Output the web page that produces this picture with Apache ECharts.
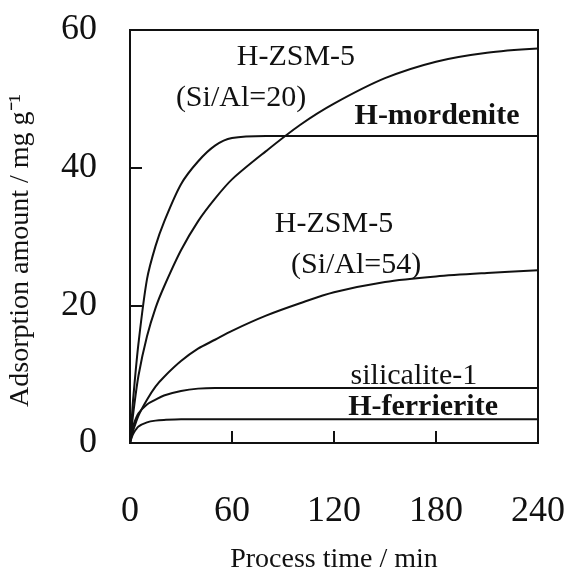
<!DOCTYPE html>
<html>
<head>
<meta charset="utf-8">
<script src="https://cdn.jsdelivr.net/npm/echarts@6/dist/echarts.min.js"></script>
<style>
html,body{margin:0;padding:0;background:#fff;}
#chart{width:572px;height:574px;}
</style>
</head>
<body>
<div id="chart"></div>
<script>
// Process time (min)
const times = [0, 1, 2, 5, 10, 15, 20, 30, 40, 50, 60, 80, 100, 120, 150, 180, 210, 240];
// Adsorption amount (mg g-1)
const zsm5_20   = [0, 2.3, 4.5, 9.8, 15.5, 19.6, 22.7, 28.0, 32.2, 35.5, 38.3, 42.4, 46.2, 49.3, 53.0, 55.4, 56.7, 57.3];
const mordenite = [0, 3.5, 6.8, 14.5, 23.8, 28.6, 32.1, 37.6, 40.9, 43.2, 44.3, 44.6, 44.6, 44.6, 44.6, 44.6, 44.6, 44.6];
const zsm5_54   = [0, 1.0, 1.9, 4.0, 6.3, 8.2, 9.6, 11.9, 13.7, 15.0, 16.3, 18.5, 20.3, 21.9, 23.4, 24.2, 24.7, 25.1];
const silicalite= [0, 1.6, 2.6, 4.3, 5.6, 6.3, 6.9, 7.55, 7.9, 8.0, 8.0, 8.0, 8.0, 8.0, 8.0, 8.0, 8.0, 8.0];
const ferrierite= [0, 0.8, 1.4, 2.4, 3.0, 3.25, 3.35, 3.45, 3.45, 3.45, 3.45, 3.45, 3.45, 3.45, 3.45, 3.45, 3.45, 3.45];

const xTicks = [0, 60, 120, 180, 240];
const yTicks = [0, 20, 40, 60];

// Annotation texts: [text, time, amount, bold]
const annotations = [
  ['H-ZSM-5', 97.6, 56.0, false],
  ['(Si/Al=20)', 65.3, 50.1, false],
  ['H-mordenite', 180.6, 47.4, true],
  ['H-ZSM-5', 120, 31.8, false],
  ['(Si/Al=54)', 133, 25.9, false],
  ['silicalite-1', 167, 9.7, false],
  ['H-ferrierite', 172.4, 5.2, true]
];

const FONT = '"Liberation Serif", "Times New Roman", serif';
const pair = arr => times.map((t, i) => [t, arr[i]]);

const chart = echarts.init(document.getElementById('chart'), null, {renderer: 'canvas'});
const lineStyle = {color: '#111', width: 2};
function mk(name, arr) {
  return {name, type: 'line', data: pair(arr), smooth: 0.3, showSymbol: false,
          lineStyle, itemStyle: {color: '#111'}, animation: false};
}
chart.setOption({
  backgroundColor: '#fff',
  animation: false,
  grid: {left: 130, right: 34, top: 30, bottom: 131, show: true, borderColor: '#111', borderWidth: 2,
         containLabel: false, outerBoundsMode: 'none'},
  xAxis: {
    type: 'value', min: 0, max: 240, interval: 60,
    name: 'Process time / min', nameLocation: 'middle', nameGap: 103,
    nameTextStyle: {fontFamily: FONT, fontSize: 28, color: '#111'},
    axisLine: {show: true, lineStyle: {color: '#111', width: 2}},
    axisTick: {show: true, inside: true, length: 12, lineStyle: {color: '#111', width: 2}},
    axisLabel: {fontFamily: FONT, fontSize: 36, color: '#111', margin: 51,
                formatter: v => xTicks.includes(v) ? String(v) : ''},
    splitLine: {show: false}
  },
  yAxis: {
    type: 'value', min: 0, max: 60, interval: 20,
    name: 'Adsorption amount / mg g\u207B\u00B9', nameLocation: 'middle', nameGap: 95,
    nameTextStyle: {fontFamily: FONT, fontSize: 28, color: '#111', padding: [0, 28, 0, 0]},
    axisLine: {show: true, lineStyle: {color: '#111', width: 2}},
    axisTick: {show: true, inside: true, length: 12, lineStyle: {color: '#111', width: 2}},
    axisLabel: {fontFamily: FONT, fontSize: 36, color: '#111', margin: 33,
                formatter: v => yTicks.includes(v) ? String(v) : ''},
    splitLine: {show: false}
  },
  series: [
    mk('H-ZSM-5 (Si/Al=20)', zsm5_20),
    mk('H-mordenite', mordenite),
    mk('H-ZSM-5 (Si/Al=54)', zsm5_54),
    mk('silicalite-1', silicalite),
    mk('H-ferrierite', ferrierite)
  ]
});

const graphics = annotations.map(([text, t, v, bold]) => {
  const p = chart.convertToPixel({gridIndex: 0}, [t, v]);
  return {type: 'text', x: p[0], y: p[1],
          style: {text, fill: '#111', font: (bold ? 'bold ' : '') + '30px ' + FONT,
                  textAlign: 'center', textVerticalAlign: 'middle'}};
});
chart.setOption({graphic: graphics});
</script>
</body>
</html>
